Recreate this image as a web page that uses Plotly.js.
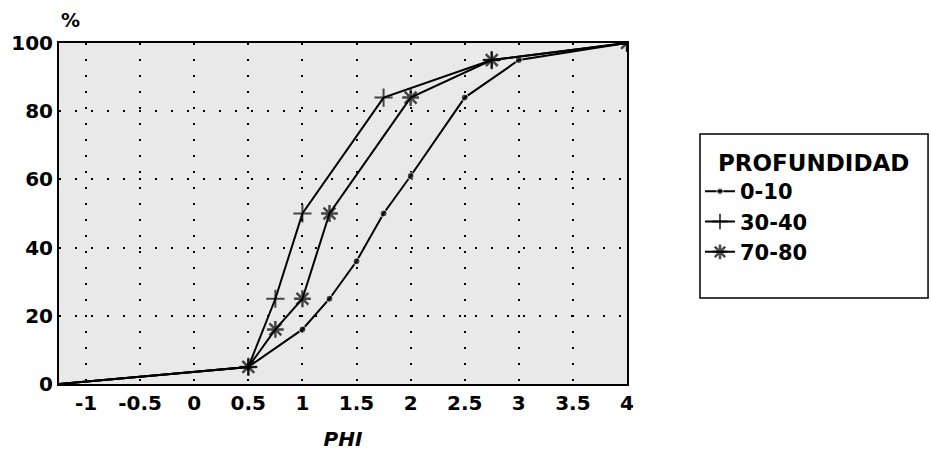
<!DOCTYPE html>
<html>
<head>
<meta charset="utf-8">
<script src="https://cdn.plot.ly/plotly-3.0.1.min.js"></script>
<style>
  html, body { margin: 0; padding: 0; background: #fff; }
  #chart { width: 931px; height: 451px; }
</style>
</head>
<body>
<div id="chart"></div>
<script>
// Data (cumulative %, by PHI size class)
const seriesNames = ['0-10', '30-40', '70-80'];
const phi_0_10  = [-1.25, 0.5, 1, 1.25, 1.5, 1.75, 2, 2.5, 3, 4];
const pct_0_10  = [0, 5, 16, 25, 36, 50, 61, 84, 95, 100];
const phi_30_40 = [-1.25, 0.5, 0.75, 1, 1.75, 2.75, 4];
const pct_30_40 = [0, 5, 25, 50, 84, 95, 100];
const phi_70_80 = [-1.25, 0.5, 0.75, 1, 1.25, 2, 2.75, 4];
const pct_70_80 = [0, 5, 16, 25, 50, 84, 95, 100];
const xTicks = [-1, -0.5, 0, 0.5, 1, 1.5, 2, 2.5, 3, 3.5, 4];
const xTickText = ['-1', '-0.5', '0', '0.5', '1', '1.5', '2', '2.5', '3', '3.5', '4'];
const yTicks = [0, 20, 40, 60, 80, 100];

const FONT = 'DejaVu Sans, Arial, sans-serif';
const XMIN = -1.25;

// hide the marker on the starting point at the axis corner
function sizes(xs, s) { return xs.map(v => (v === XMIN ? 0 : s)); }

const traces = [
  {
    x: phi_0_10, y: pct_0_10, name: seriesNames[0], legendgroup: 'a',
    mode: 'lines+markers', line: {color: '#000', width: 2},
    marker: {symbol: 'circle', size: sizes(phi_0_10, 7), color: '#000'}
  },
  {
    x: phi_30_40, y: pct_30_40, name: seriesNames[1], legendgroup: 'b',
    mode: 'lines+markers', line: {color: '#000', width: 2},
    marker: {symbol: 'cross-thin', size: sizes(phi_30_40, 13), color: '#000', line: {color: '#000', width: 2}}
  },
  {
    x: phi_70_80, y: pct_70_80, name: seriesNames[2], legendgroup: 'c',
    mode: 'lines+markers', line: {color: '#000', width: 2},
    marker: {symbol: 'asterisk', size: sizes(phi_70_80, 14), color: '#000', line: {color: '#000', width: 2.5}}
  }
];

const NB = '\u00a0';
const layout = {
  width: 931, height: 451,
  margin: {l: 59, r: 304, t: 43, b: 67, pad: 0},
  paper_bgcolor: '#fff',
  plot_bgcolor: '#e9e9e9',
  font: {family: FONT, color: '#000', size: 18, weight: 'bold'},
  showlegend: true,
  xaxis: {
    range: [XMIN, 4],
    tickvals: xTicks, ticktext: xTickText,
    showgrid: true, gridcolor: '#000', gridwidth: 2, griddash: '2px,14px',
    zeroline: false,
    showline: true, linecolor: '#000', linewidth: 2, mirror: true,
    ticks: '', tickfont: {family: FONT, size: 20, weight: 'bold', color: '#000'},
    title: {text: '<i>PHI</i>', font: {family: FONT, size: 20, weight: 'bold', color: '#000'}, standoff: 22}
  },
  yaxis: {
    range: [0, 100],
    tickvals: yTicks,
    showgrid: true, gridcolor: '#000', gridwidth: 2, griddash: '2px,14px',
    zeroline: false,
    showline: true, linecolor: '#000', linewidth: 2, mirror: true,
    ticks: '', tickfont: {family: FONT, size: 20, weight: 'bold', color: '#000'}
  },
  legend: {
    x: 1.1285, y: 0.712, xanchor: 'left', yanchor: 'top',
    borderwidth: 0, bgcolor: 'rgba(0,0,0,0)',
    font: {family: FONT, size: 21, weight: 'bold', color: '#000'},
    title: {text: NB + NB + 'PROFUNDIDAD', font: {family: FONT, size: 23, weight: 'bold', color: '#000'}},
    tracegroupgap: 0,
    itemwidth: 30
  },
  shapes: [
    {type: 'rect', xref: 'paper', yref: 'paper', x0: 1.1285, x1: 1.53, y0: 0.252, y1: 0.733,
     line: {color: '#000', width: 1.5}, fillcolor: 'rgba(0,0,0,0)', layer: 'above'}
  ],
  annotations: [
    {text: '%', xref: 'paper', yref: 'paper', x: 0.0, y: 1.0, xanchor: 'left', yanchor: 'bottom',
     yshift: 10, showarrow: false, font: {family: FONT, size: 19, weight: 'bold', color: '#000'}}
  ]
};

Plotly.newPlot('chart', traces, layout, {displayModeBar: false, staticPlot: true});
</script>
</body>
</html>
